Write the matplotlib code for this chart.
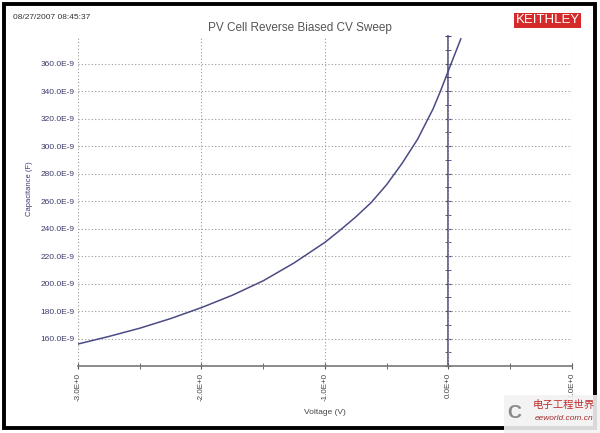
import numpy as np
import matplotlib.pyplot as plt
from matplotlib.patches import Rectangle

# C-V sweep (voltage in V, capacitance in nF)
volts = [-3.0, -2.75, -2.5, -2.25, -2.0, -1.75, -1.5, -1.25, -1.0, -0.875,
         -0.75, -0.625, -0.5, -0.375, -0.25, -0.125, -0.0625, 0.0, 0.05, 0.10]
cap_nf = [156, 161.5, 167.5, 174.5, 182.5, 191.5, 202, 215, 230, 239,
          248.5, 259, 272, 287.5, 305, 327, 340.5, 355, 366.5, 378]

x_ticks = [-3, -2, -1, 0, 1]
x_minor = [-2.5, -1.5, -0.5, 0.5]
y_ticks = [160, 180, 200, 220, 240, 260, 280, 300, 320, 340, 360]
yaxis_major = [140, 160, 180, 200, 220, 240, 260, 280, 300, 320, 340, 360, 380]
yaxis_minor = [150, 170, 190, 210, 230, 250, 270, 290, 310, 330, 350, 370]

title = 'PV Cell Reverse Biased CV Sweep'
stamp = '08/27/2007 08:45:37'

plt.rcParams['font.family'] = ['Liberation Sans', 'DejaVu Sans']

fig = plt.figure(figsize=(6, 4.33), dpi=100)
ax = fig.add_axes([0.13, 0.1547, 0.8233, 0.762])

ax.plot(volts, cap_nf, color='#4b4b85', lw=1.1, zorder=3)
ax.set_xlim(-3, 1)
ax.set_ylim(140, 380)

ax.set_xticks(x_ticks)
ax.set_xticklabels([f'{v:.1f}E+0' for v in x_ticks])
ax.set_xticks(x_minor, minor=True)
ax.set_yticks(y_ticks)
ax.set_yticklabels([f'{v:.1f}E-9' for v in y_ticks])
ax.grid(True, which='major', ls=(0, (1, 2)), color='#999999', lw=0.8)

for s in ['top', 'right', 'left']:
    ax.spines[s].set_visible(False)
ax.spines['bottom'].set_color('#777777')
ax.spines['bottom'].set_linewidth(1.2)

ax.tick_params(axis='x', which='both', direction='inout', length=4, color='#555555',
               labelsize=5.8, labelrotation=90, pad=3, labelcolor='#444444')
ax.tick_params(axis='y', length=0, pad=2.2, labelsize=6, labelcolor='#3b3b6b')

# y axis line drawn at V = 0
sec = ax.secondary_yaxis(0.75)
sec.set_yticks(yaxis_major)
sec.set_yticks(yaxis_minor, minor=True)
sec.tick_params(which='both', direction='inout', length=4, color='#44447a',
                labelleft=False, labelright=False)
for s in sec.spines.values():
    s.set_color('#44447a')
    s.set_linewidth(1.1)

ax.set_xlabel('Voltage (V)', fontsize=6, color='#444444')
ax.xaxis.set_label_coords(0.5, -0.13)
ax.set_ylabel('Capacitance (F)', fontsize=5.5, color='#3c3c78')
ax.yaxis.set_label_coords(-0.091, 0.536)

fig.text(0.5, 0.935, title, ha='center', va='center', fontsize=8.5, color='#555555')
fig.text(0.022, 0.96, stamp, ha='left', va='center', fontsize=6, color='#333333')
fig.text(0.913, 0.953, 'KEITHLEY', ha='center', va='center', fontsize=9.5, color='white',
         bbox=dict(boxstyle='square,pad=0.12', fc='#d42a2a', ec='none'))

# outer frame
fig.patches.append(Rectangle((0.007, 0.012), 0.985, 0.978, transform=fig.transFigure,
                             fill=False, lw=2.8, ec='black'))

# watermark in the corner
fig.patches.append(Rectangle((0.84, 0.0), 0.16, 0.088, transform=fig.transFigure,
                             fc='#f2f2f2', ec='none', alpha=0.9))
fig.text(0.857, 0.045, 'C', ha='center', va='center', fontsize=14, fontweight='bold',
         color='#8a8a8a')
fig.text(0.94, 0.065, '电子工程世界', ha='center', va='center', fontsize=7.5,
         color='#c03030', family=['Noto Sans CJK SC', 'DejaVu Sans'])
fig.text(0.94, 0.034, 'eeworld.com.cn', ha='center', va='center', fontsize=6,
         color='#a03030', style='italic')

fig.savefig('out.png', dpi=100)
